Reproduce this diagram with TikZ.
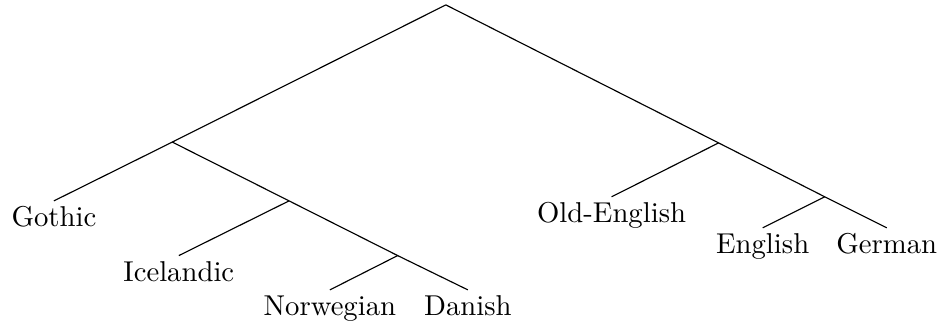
\documentclass[tikz,border=0pt]{standalone}
\usepackage{tikz}
\usetikzlibrary{positioning}
\tikzset{
    % Leaf labels hang below the end of their branch
    leaf/.style={anchor=north, inner sep=1.8pt, font=\normalsize},
    % Branch lines
    branch/.style={line width=0.4pt, black},
}

\begin{document}
\begin{tikzpicture}
      \useasboundingbox (0,0) rectangle (11.524,-3.968);
      % inner split points
      \coordinate (root) at (5.46,-0.06);
      \coordinate (west) at (2.11,-1.74);
      \coordinate (east) at (8.80,-1.75);
      \coordinate (nord) at (3.54,-2.46);
      \coordinate (scand) at (4.87,-3.13);
      \coordinate (anglo) at (10.10,-2.41);
      % languages
      \node[leaf] (gothic) at (0.66,-2.46) {Gothic};
      \node[leaf] (icelandic) at (2.19,-3.13) {Icelandic};
      \node[leaf] (norwegian) at (4.04,-3.55) {Norwegian};
      \node[leaf] (danish) at (5.73,-3.55) {Danish};
      \node[leaf] (oldenglish) at (7.49,-2.41) {Old-English};
      \node[leaf] (english) at (9.34,-2.79) {English};
      \node[leaf] (german) at (10.86,-2.79) {German};
      \foreach \p/\c in {root/west,root/east,west/nord,nord/scand,east/anglo}{\draw[branch] (\p)--(\c);}
      \foreach \p/\c in {west/gothic,nord/icelandic,scand/norwegian,scand/danish,east/oldenglish,anglo/english,anglo/german}{\draw[branch] (\p)--(\c.north);}
    \end{tikzpicture}
\end{document}
